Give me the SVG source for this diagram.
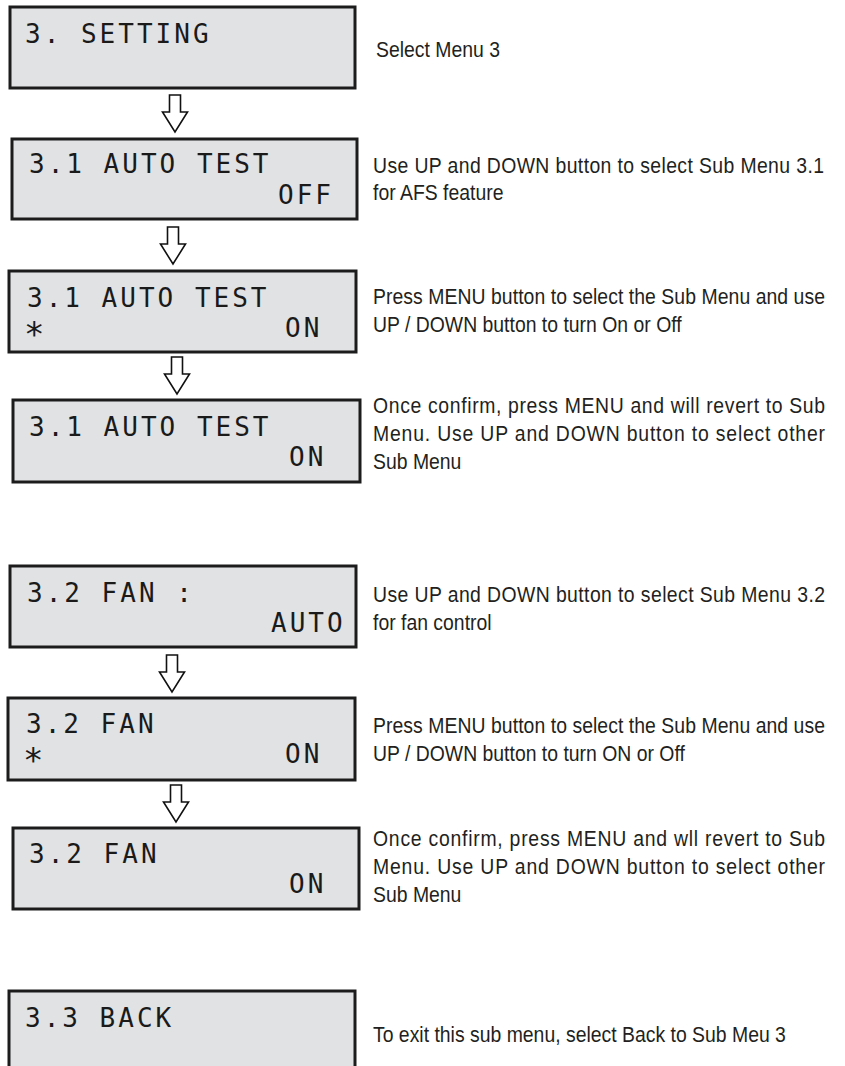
<svg xmlns="http://www.w3.org/2000/svg" width="845" height="1066" viewBox="0 0 845 1066">
<style>
.lcd{fill:#e1e2e4;stroke:#1c1c1c;stroke-width:3}
.lt{font-family:"DejaVu Sans Mono",monospace;font-size:26px;letter-spacing:3px;fill:#1a1a1a}
.ast{font-family:"DejaVu Sans Mono",monospace;font-size:34px;fill:#1a1a1a}
.d{font-family:"Liberation Sans",Arial,sans-serif;font-size:22px;fill:#231f20}
.arr{fill:#fff;stroke:#111;stroke-width:1.6;stroke-linejoin:miter}
</style>
<defs>
<path id="darrow" class="arr" d="M-5.5,0 H5.5 V17 H12.5 L0,37 L-12.5,17 H-5.5 Z"/>
</defs>
<rect width="845" height="1066" fill="#fff"/>

<g id="connectors">
<use href="#darrow" transform="translate(175,95)"/>
<use href="#darrow" transform="translate(173,227)"/>
<use href="#darrow" transform="translate(177,357)"/>
<use href="#darrow" transform="translate(172,655)"/>
<use href="#darrow" transform="translate(176,785)"/>
</g>

<g id="n1">
<rect class="lcd" x="10" y="7" width="345" height="81"/>
<text class="lt" x="25" y="43">3. SETTING</text>
</g>
<g id="n2">
<rect class="lcd" x="12" y="139" width="345" height="80"/>
<text class="lt" x="29" y="173">3.1 AUTO TEST</text>
<text class="lt" x="278" y="204">OFF</text>
</g>
<g id="n3">
<rect class="lcd" x="9" y="271" width="347" height="81"/>
<text class="lt" x="27" y="307">3.1 AUTO TEST</text>
<text class="ast" x="24" y="346">*</text>
<text class="lt" x="285" y="337">ON</text>
</g>
<g id="n4">
<rect class="lcd" x="13" y="400" width="347" height="82"/>
<text class="lt" x="29" y="436">3.1 AUTO TEST</text>
<text class="lt" x="289" y="466">ON</text>
</g>
<g id="n5">
<rect class="lcd" x="10" y="566" width="346" height="81"/>
<text class="lt" x="27" y="602">3.2 FAN :</text>
<text class="lt" x="271" y="632">AUTO</text>
</g>
<g id="n6">
<rect class="lcd" x="8" y="698" width="347" height="82"/>
<text class="lt" x="26" y="733">3.2 FAN</text>
<text class="ast" x="23" y="772">*</text>
<text class="lt" x="285" y="763">ON</text>
</g>
<g id="n7">
<rect class="lcd" x="13" y="828" width="346" height="81"/>
<text class="lt" x="29" y="863">3.2 FAN</text>
<text class="lt" x="289" y="893">ON</text>
</g>
<g id="n8">
<rect class="lcd" x="9" y="991" width="346" height="90"/>
<text class="lt" x="25" y="1027">3.3 BACK</text>
</g>

<g id="descriptions" transform="scale(0.882,1)">
<text class="d" x="426.3" y="57">Select Menu 3</text>
<text class="d" x="422.9" y="173" textLength="511.3" lengthAdjust="spacing">Use UP and DOWN button to select Sub Menu 3.1</text>
<text class="d" x="422.9" y="200">for AFS feature</text>
<text class="d" x="422.9" y="304" textLength="512.5" lengthAdjust="spacing">Press MENU button to select the Sub Menu and use</text>
<text class="d" x="422.9" y="332">UP / DOWN button to turn On or Off</text>
<text class="d" x="422.9" y="413" textLength="512.5" lengthAdjust="spacing">Once confirm, press MENU and will revert to Sub</text>
<text class="d" x="422.9" y="441" textLength="512.5" lengthAdjust="spacing">Menu. Use UP and DOWN button to select other</text>
<text class="d" x="422.9" y="469">Sub Menu</text>
<text class="d" x="422.9" y="602" textLength="512.5" lengthAdjust="spacing">Use UP and DOWN button to select Sub Menu 3.2</text>
<text class="d" x="422.9" y="630">for fan control</text>
<text class="d" x="422.9" y="733" textLength="512.5" lengthAdjust="spacing">Press MENU button to select the Sub Menu and use</text>
<text class="d" x="422.9" y="761">UP / DOWN button to turn ON or Off</text>
<text class="d" x="422.9" y="846" textLength="512.5" lengthAdjust="spacing">Once confirm, press MENU and wll revert to Sub</text>
<text class="d" x="422.9" y="874" textLength="512.5" lengthAdjust="spacing">Menu. Use UP and DOWN button to select other</text>
<text class="d" x="422.9" y="902">Sub Menu</text>
<text class="d" x="422.9" y="1042">To exit this sub menu, select Back to Sub Meu 3</text>
</g>
</svg>
